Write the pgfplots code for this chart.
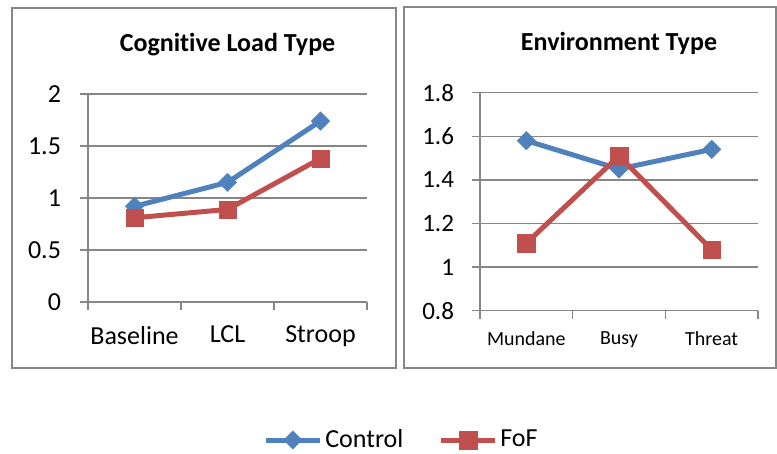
\documentclass[border=0pt]{standalone}
\usepackage{pgfplots}
\pgfplotsset{compat=1.18}
\usepackage{fontspec}
\setmainfont{Carlito}[Ligatures=NoCommon]
\definecolor{ctrlblue}{HTML}{4F81BD}
\definecolor{fofred}{HTML}{C0504D}
\definecolor{gridgray}{HTML}{868686}

\pgfplotsset{
  panel/.style={
    scale only axis,
    anchor=south west,
    xmin=0.5, xmax=3.5,
    xtick={1,2,3},
    minor xtick={0.5,1.5,2.5,3.5},
    axis x line=bottom, axis y line=left,
    axis line style={-, draw=gridgray, line width=0.7bp},
    tick align=outside,
    major tick length=4bp, minor tick length=4bp,
    major x tick style={draw=none},
    minor x tick style={draw=gridgray, line width=0.7bp},
    ytick style={draw=gridgray, line width=0.7bp},
    ymajorgrids,
    grid style={draw=gridgray, line width=0.7bp},
    /pgf/number format/assume math mode=true,
    title style={font=\fontsize{13bp}{15bp}\selectfont\bfseries, at={(0.5,1)}, anchor=center},
    clip=false,
    every axis plot/.append style={line width=2.5bp},
  },
  ctrl/.style={color=ctrlblue, mark=square*, mark size=3.3bp,
    mark options={solid, rotate=45, line width=0.1bp, fill=ctrlblue}},
  fof/.style={color=fofred, mark=square*, mark size=4.4bp,
    mark options={solid, line width=0.1bp, fill=fofred}},
}

\begin{document}
\begin{tikzpicture}
\path[use as bounding box] (0,0) rectangle (388.5bp,227bp);
\draw[gridgray, line width=0.7bp] (6bp,43bp) rectangle (198bp,223bp);
\draw[gridgray, line width=0.7bp] (202bp,43bp) rectangle (388bp,223.5bp);

\begin{axis}[panel,
  at={(44bp,76bp)}, width=139.5bp, height=104bp,
  ymin=0, ymax=2, ytick={0,0.5,1,1.5,2},
  xticklabels={Baseline,LCL,Stroop},
  ticklabel style={font=\fontsize{13bp}{15bp}\selectfont},
  xticklabel style={yshift=-4.5bp},
  yticklabel style={xshift=-6bp},
  title={Cognitive Load Type}, title style={yshift=18.5bp},
  legend columns=2,
  legend style={at={(1.1254,-0.6635)}, anchor=center, draw=none, fill=none,
    font=\fontsize{13bp}{15bp}\selectfont,
    nodes={inner xsep=1.5bp},
    /tikz/every even column/.append style={column sep=16bp}},
  legend image code/.code={\draw[mark repeat=2, mark phase=2, #1]
    plot coordinates {(0bp,0bp) (13.5bp,0bp) (27bp,0bp)};},
]
\addplot[ctrl] coordinates {(1,0.92) (2,1.15) (3,1.74)};
\addplot[fof] coordinates {(1,0.81) (2,0.89) (3,1.38)};
\legend{Control,FoF}
\end{axis}

\begin{axis}[panel,
  at={(240bp,71.65bp)}, width=139bp, height=109bp,
  ymin=0.8, ymax=1.8, ytick={0.8,1,1.2,1.4,1.6,1.8},
  yticklabels={0.8,1,1.2,1.4,1.6,1.8},
  xticklabels={Mundane,Busy,Threat},
  yticklabel style={font=\fontsize{12.5bp}{15bp}\selectfont, xshift=-5.5bp},
  xticklabel style={font=\fontsize{10bp}{12bp}\selectfont, yshift=-3bp},
  title={Environment Type}, title style={yshift=18.85bp},
]
\addplot[ctrl] coordinates {(1,1.58) (2,1.45) (3,1.54)};
\addplot[fof] coordinates {(1,1.11) (2,1.51) (3,1.08)};
\end{axis}
\end{tikzpicture}
\end{document}
